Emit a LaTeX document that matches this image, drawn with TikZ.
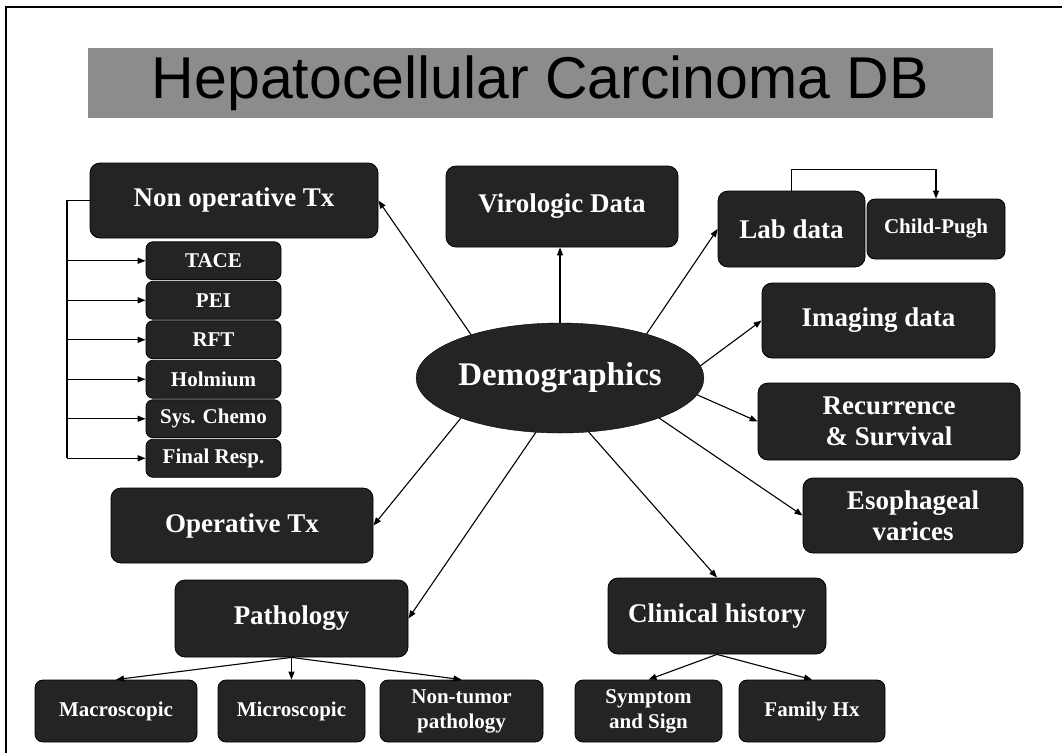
\documentclass[tikz,border=0pt]{standalone}
\usepackage{fontspec}
\setmainfont{Liberation Serif}
\newfontfamily\titlefont{Liberation Sans}
\usetikzlibrary{arrows.meta,shapes.geometric}
\tikzset{
  box/.style={draw=black, line width=0.8pt, fill=black!86, rounded corners=10pt, text=white,
    font=\fontsize{27}{31}\selectfont\bfseries, align=center, inner sep=0pt},
  smallbox/.style={box, rounded corners=8pt, font=\fontsize{21}{25}\selectfont\bfseries},
  subbox/.style={box, rounded corners=7pt, font=\fontsize{21}{23}\selectfont\bfseries},
  conn/.style={line width=1.1pt, -{Triangle[length=8pt,width=6pt]}},
  plain/.style={line width=1.1pt}
}
\begin{document}
\begin{tikzpicture}[x=1pt,y=-1pt]
\useasboundingbox (0,0) rectangle (1062,753);
\fill[white] (0,0) rectangle (1062,753);
% frame
\draw[line width=2pt] (6,753) -- (6,7) -- (1062,7);
% title banner
\node[fill=black!45, minimum width=905pt, minimum height=70pt, inner sep=0pt,
  font=\fontsize{59}{63}\titlefont] (title) at (540.5,83) {Hepatocellular Carcinoma DB};

% central ellipse
\node[ellipse, draw=black, fill=black!86, text=white, minimum width=254pt, minimum height=110pt,
  inner sep=0pt, font=\fontsize{33}{37}\selectfont\bfseries] (demo) at (560,378) {Demographics};

% left column
\node[box, minimum width=288pt, minimum height=75pt] (nonop) at (234,200.5) {Non operative Tx};
\node[subbox, minimum width=135pt, minimum height=38pt] (s1) at (213.5,260.75) {TACE};
\node[subbox, minimum width=135pt, minimum height=38pt] (s2) at (213.5,300.25) {PEI};
\node[subbox, minimum width=135pt, minimum height=38pt] (s3) at (213.5,339.75) {RFT};
\node[subbox, minimum width=135pt, minimum height=38pt] (s4) at (213.5,379.25) {Holmium};
\node[subbox, minimum width=135pt, minimum height=38pt] (s5) at (213.5,418.75) {Sys. Chemo};
\node[subbox, minimum width=135pt, minimum height=38pt] (s6) at (213.5,458.25) {Final Resp.};
\node[box, minimum width=262pt, minimum height=75pt] (optx) at (242,525.5) {Operative Tx};
\node[box, minimum width=233pt, minimum height=77pt] (path) at (291.5,618.5) {Pathology};
\node[smallbox, minimum width=162pt, minimum height=62pt] (macro) at (116,711) {Macroscopic};
\node[smallbox, minimum width=147pt, minimum height=62pt] (micro) at (291.5,711) {Microscopic};
\node[smallbox, minimum width=163pt, minimum height=62pt] (nontum) at (461.5,711) {Non-tumor\\pathology};

% top and right
\node[box, minimum width=232pt, minimum height=81pt] (viro) at (562,206.5) {Virologic Data};
\node[box, minimum width=147pt, minimum height=76pt] (lab) at (791.5,229) {Lab data};
\node[smallbox, minimum width=138pt, minimum height=60pt] (child) at (936,229) {Child-Pugh};
\node[box, minimum width=233pt, minimum height=75pt] (imaging) at (878.5,320.5) {Imaging data};
\node[box, minimum width=262pt, minimum height=77pt] (recur) at (889,421.5) {Recurrence\\\& Survival};
\node[box, minimum width=220pt, minimum height=75pt] (eso) at (913,515.5) {Esophageal\\varices};
\node[box, minimum width=218pt, minimum height=76pt] (clin) at (717,616) {Clinical history};
\node[smallbox, minimum width=147pt, minimum height=62pt] (symp) at (648.5,711) {Symptom\\and Sign};
\node[smallbox, minimum width=146pt, minimum height=62pt] (fam) at (812,711) {Family Hx};

% connectors from Demographics
\draw[conn] (demo.154) -- (nonop.east);
\draw[conn] (demo.north) -- (demo.north |- viro.south);
\draw[conn] (demo.27) -- (lab.west);
\draw[conn] (demo.5) -- (imaging.west);
\draw[conn] (demo.-7) -- (recur.west);
\draw[conn] (demo.-22) -- (eso.west);
\draw[conn] (demo.202) -- (optx.east);
\draw[conn] (demo.246) -- (path.east);
\draw[conn] (demo.298) -- (clin.north);

% Lab -> Child-Pugh
\draw[conn] (lab.north) -- ++(0,-21) -| (child.north);

% Non operative bracket
\coordinate (br) at (67,0);
\draw[plain] (nonop.west) -| (br |- s6.west);
\foreach \s in {s1,s2,s3,s4,s5,s6} {
  \draw[conn] (br |- \s.west) -- (\s.west);
}

% Pathology children
\draw[conn] (path.south) -- (macro.north);
\draw[conn] (path.south) -- (micro.north);
\draw[conn] (path.south) -- (nontum.north);

% Clinical history children
\draw[conn] (clin.south) -- (symp.north);
\draw[conn] (clin.south) -- (fam.north);
\end{tikzpicture}
\end{document}
